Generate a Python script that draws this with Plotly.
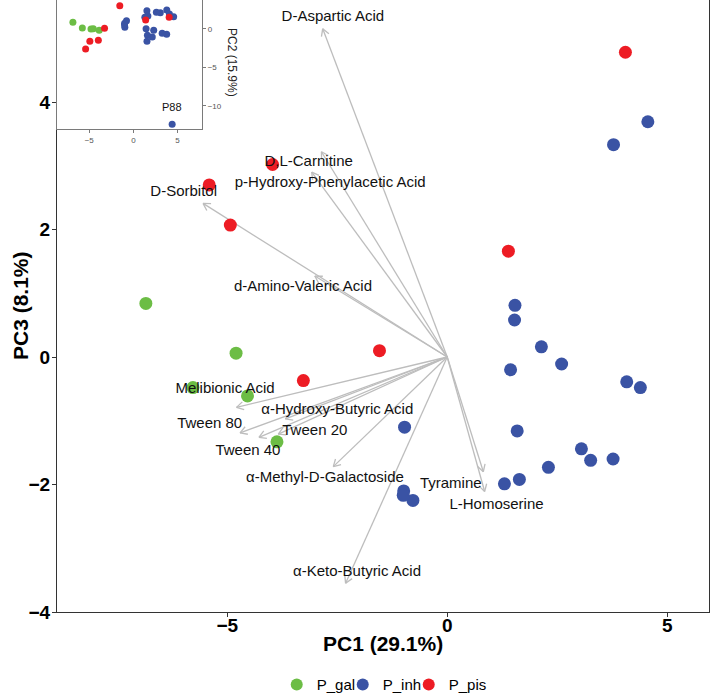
import numpy as np
import plotly.graph_objects as go

# ---------------- data ----------------
groups = ["P_gal", "P_inh", "P_pis"]
group_colors = ["#6cbd45", "#3a53a4", "#ed1c24"]

gal_pc1 = [-6.85, -5.78, -4.80, -4.54, -3.87]
gal_pc2 = [0.83, 0.09, -0.04, 0.00, -0.21]
gal_pc3 = [0.84, -0.48, 0.06, -0.61, -1.33]

inh_pc1 = [4.56, 4.39, 4.08, 3.78, 3.77, 3.26, 3.05, 2.60, 2.30, 2.14,
           1.64, 1.59, 1.54, 1.53, 1.44, 1.30, -0.78, -0.97, -0.99, -1.00]
inh_pc2 = [1.56, -12.4, 1.91, 2.43, -0.73, -0.60, 2.08, 2.13, -0.21, -1.08,
           1.65, -0.86, -1.64, 2.34, 0.00, 1.50, 1.04, 0.18, 0.70, 0.50]
inh_pc3 = [3.69, -0.48, -0.39, 3.33, -1.60, -1.62, -1.44, -0.11, -1.73, 0.16,
           -1.92, -1.16, 0.81, 0.58, -0.20, -1.99, -2.25, -1.10, -2.10, -2.17]

pis_pc1 = [-5.41, -4.93, -3.97, -3.27, -1.54, 1.39, 4.05]
pis_pc2 = [-2.64, -1.64, -1.51, 0.05, 2.99, 1.13, 1.48]
pis_pc3 = [2.70, 2.07, 3.02, -0.37, 0.10, 1.66, 4.78]

outlier_label = "P88"
outlier_pc1 = 4.39
outlier_pc2 = -12.4

load_names = ["D-Aspartic Acid", "D,L-Carnitine", "p-Hydroxy-Phenylacetic Acid",
              "D-Sorbitol", "d-Amino-Valeric Acid", "Melibionic Acid",
              "α-Hydroxy-Butyric Acid", "Tween 80", "Tween 40", "Tween 20",
              "α-Methyl-D-Galactoside", "Tyramine", "L-Homoserine",
              "α-Keto-Butyric Acid"]
load_pc1 = [-2.83, -2.86, -3.08, -5.55, -3.01, -4.79, -3.68, -4.71, -4.28, -3.84,
            -2.59, 0.82, 0.85, -2.31]
load_pc3 = [5.15, 3.22, 2.90, 2.41, 1.27, -0.79, -0.97, -1.19, -1.26, -1.21,
            -1.72, -1.80, -2.11, -3.55]
label_pc1 = [-2.60, -3.15, -2.66, -5.99, -3.28, -5.05, -2.50, -5.40, -4.53, -3.01,
             -2.78, 0.08, 1.12, -2.05]
label_pc3 = [5.33, 3.05, 2.72, 2.58, 1.09, -0.51, -0.83, -1.05, -1.48, -1.16,
             -1.90, -2.00, -2.32, -3.38]

x_title = "PC1 (29.1%)"
y_title = "PC3 (8.1%)"
inset_y_title = "PC2 (15.9%)"
main_x_ticks = [-5, 0, 5]
main_y_ticks = [-4, -2, 0, 2, 4]
inset_x_ticks = [-5, 0, 5]
inset_y_ticks = [-10, -5, 0]

# ---------------- layout geometry ----------------
W, H = 710, 700
ML, MR, MT, MB = 57, 1, 0, 88
XR = [-8.87, 5.95]
YR = [-4.0, 5.6]
IXR = [-8.65, 7.77]
IYR = [-13.06, 3.73]
pw = W - ML - MR
ph = H - MT - MB
sx = pw / (XR[1] - XR[0])
sy = ph / (YR[1] - YR[0])

FONT = "Liberation Sans, Arial, Helvetica, sans-serif"

fig = go.Figure()

# arrows (shaft + open head)
ax_, ay_ = [], []
head_len = 8.0
for x1, y1 in zip(load_pc1, load_pc3):
    ax_ += [0, x1, None]
    ay_ += [0, y1, None]
    ang = np.arctan2(y1 * sy, x1 * sx)
    for s in (1, -1):
        a = ang + np.pi + s * np.radians(30)
        ax_ += [x1 + head_len * np.cos(a) / sx, x1, None]
        ay_ += [y1 + head_len * np.sin(a) / sy, y1, None]
fig.add_trace(go.Scatter(x=ax_, y=ay_, mode="lines",
                         line=dict(color="#bdbdbd", width=1.3),
                         hoverinfo="skip", showlegend=False))

# points (main)
data = [(gal_pc1, gal_pc2, gal_pc3), (inh_pc1, inh_pc2, inh_pc3), (pis_pc1, pis_pc2, pis_pc3)]
for g, c, (p1, p2, p3) in zip(groups, group_colors, data):
    fig.add_trace(go.Scatter(x=p1, y=p3, mode="markers", name=g,
                             marker=dict(color=c, size=13, line=dict(width=0)),
                             legendgroup=g))

# invisible spacer entry so the last legend label is not clipped
fig.add_trace(go.Scatter(x=[None], y=[None], mode="markers", name=" ",
                         marker=dict(color="rgba(0,0,0,0)", size=1),
                         hoverinfo="skip"))

# loading labels
fig.add_trace(go.Scatter(x=label_pc1, y=label_pc3, mode="text", text=load_names,
                         textposition="middle center",
                         textfont=dict(family=FONT, size=15, color="#111111"),
                         hoverinfo="skip", showlegend=False))

# inset points
for g, c, (p1, p2, p3) in zip(groups, group_colors, data):
    fig.add_trace(go.Scatter(x=p1, y=p2, mode="markers", name=g,
                             marker=dict(color=c, size=7, line=dict(width=0)),
                             xaxis="x2", yaxis="y2", showlegend=False,
                             legendgroup=g))

fig.add_annotation(x=outlier_pc1, y=outlier_pc2, xref="x2", yref="y2",
                   text=outlier_label, showarrow=False, yshift=17,
                   font=dict(family=FONT, size=11, color="#111111"))

fig.add_annotation(x=(232 - ML) / pw, y=1 - 62 / ph, xref="paper", yref="paper",
                   xanchor="center", yanchor="middle",
                   text=inset_y_title, showarrow=False, textangle=90,
                   font=dict(family=FONT, size=12, color="#222222"))

# axis titles
fig.add_annotation(x=0.5, y=0, xref="paper", yref="paper", xanchor="center",
                   yanchor="middle", yshift=-31, showarrow=False,
                   text="<b>" + x_title + "</b>",
                   font=dict(family=FONT, size=21, color="#000000"))
fig.add_annotation(x=0, y=0.5, xref="paper", yref="paper", xanchor="center",
                   yanchor="middle", xshift=-37, showarrow=False, textangle=-90,
                   text="<b>" + y_title + "</b>",
                   font=dict(family=FONT, size=21, color="#000000"))

fig.update_layout(
    width=W, height=H,
    margin=dict(l=ML, r=MR, t=MT, b=MB, autoexpand=False),
    paper_bgcolor="white", plot_bgcolor="white",
    font=dict(family=FONT, color="#000000"),
    xaxis=dict(range=XR, domain=[0, 1], showgrid=False, zeroline=False,
               automargin=False,
               showline=True, mirror=True, linecolor="#333333", linewidth=1.2,
               ticks="outside", ticklen=4, tickcolor="#333333",
               tickvals=main_x_ticks, ticklabelstandoff=-8,
               tickfont=dict(family=FONT, size=19, color="#000000", weight="bold")),
    yaxis=dict(range=YR, domain=[0, 1], showgrid=False, zeroline=False,
               automargin=False,
               showline=True, mirror=True, linecolor="#333333", linewidth=1.2,
               ticks="outside", ticklen=4, tickcolor="#333333",
               tickvals=main_y_ticks, ticklabelstandoff=-2,
               tickfont=dict(family=FONT, size=19, color="#000000", weight="bold")),
    xaxis2=dict(range=IXR, domain=[0, 145 / pw], anchor="y2", showgrid=False,
                automargin=False,
                zeroline=False, showline=True, mirror=True, linecolor="#7a7a7a",
                linewidth=1.2, ticks="outside", ticklen=3, tickcolor="#7a7a7a",
                tickvals=inset_x_ticks,
                tickfont=dict(family=FONT, size=8, color="#555555")),
    yaxis2=dict(range=IYR, domain=[1 - 129.3 / ph, 1], anchor="x2", side="right",
                automargin=False,
                showgrid=False, zeroline=False, showline=True, mirror=True,
                linecolor="#7a7a7a", linewidth=1.2, ticks="outside", ticklen=3,
                tickcolor="#7a7a7a", tickvals=inset_y_ticks,
                tickfont=dict(family=FONT, size=8, color="#555555")),
    legend=dict(orientation="h", x=0.337, xanchor="left", y=-0.119,
                yanchor="middle", font=dict(family=FONT, size=15),
                itemsizing="constant", itemwidth=30, entrywidth=21,
                entrywidthmode="pixels", bgcolor="rgba(0,0,0,0)"),
)

fig.write_html("out.html", config={"displayModeBar": False},
               post_script="document.body.style.margin='0';")
